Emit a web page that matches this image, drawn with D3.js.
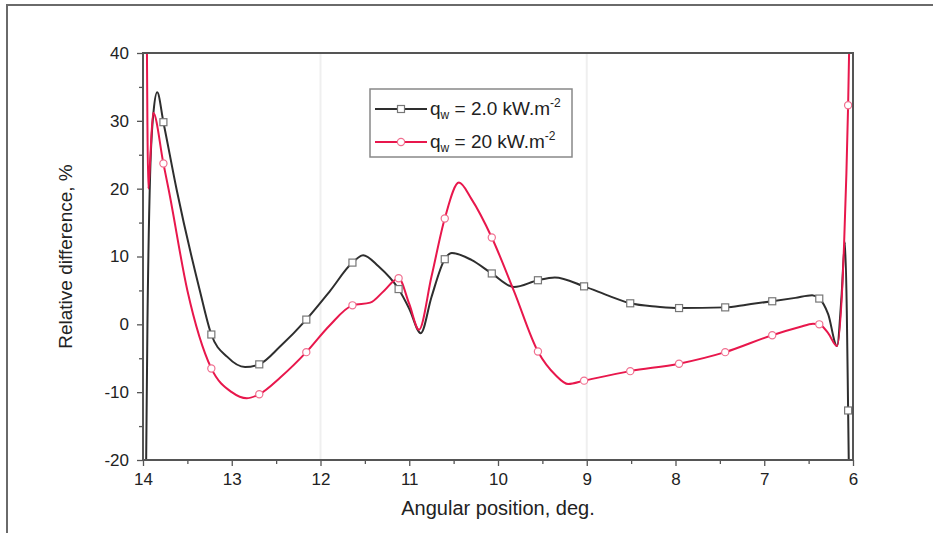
<!DOCTYPE html>
<html><head><meta charset="utf-8">
<script src="https://cdn.jsdelivr.net/npm/d3@7"></script>
<style>body{margin:0;background:#fff;} svg{display:block;font-family:"Liberation Sans",Arial,sans-serif;}</style>
</head><body><svg id="c" width="933" height="533"></svg>
<script>
// ---- data ----
const xTicks = [14, 13, 12, 11, 10, 9, 8, 7, 6];
const yTicks = [-20, -10, 0, 10, 20, 30, 40];
const seriesNames = ["2.0", "20"];
// marker positions (angle, deg) shared by both series
const markX = [13.77, 13.23, 12.69, 12.16, 11.64, 11.12, 10.6, 10.07, 9.55, 9.03, 8.51, 7.96, 7.44, 6.91, 6.38, 6.055];
const lowMarkY  = [29.8, -1.5, -5.9, 0.7, 9.1, 5.2, 9.6, 7.5, 6.5, 5.6, 3.1, 2.4, 2.5, 3.4, 3.8, -12.7];
const highMarkY = [23.7, -6.5, -10.3, -4.1, 2.8, 6.8, 15.6, 12.8, -4.0, -8.3, -6.9, -5.8, -4.1, -1.6, 0.0, 32.3];
// additional curve points (between markers)
const lowExtraX = [13.97, 13.95, 13.92, 13.88, 13.84, 13.62, 13.36, 13.05, 12.85, 12.45, 11.9, 11.52, 11.35, 11.0, 10.87, 10.75, 10.52, 10.3, 9.82, 9.36, 8.75, 8.2, 7.2, 6.65, 6.46, 6.28, 6.18, 6.13, 6.09, 6.07, 6.04];
const lowExtraY = [-28, 0, 22, 31.5, 34.2, 19.8, 5.0, -4.8, -6.3, -3.2, 4.8, 10.2, 8.6, 2.3, -1.3, 4.0, 10.5, 9.5, 5.5, 6.9, 4.2, 2.6, 2.9, 3.9, 4.3, 1.5, -3.2, 4.0, 12.1, 2.0, -28];
const highExtraX = [13.96, 13.94, 13.92, 13.885, 13.71, 13.5, 13.0, 12.83, 12.45, 11.9, 11.44, 11.28, 11.0, 10.89, 10.75, 10.44, 10.3, 9.82, 9.35, 9.21, 6.6, 6.45, 6.28, 6.18, 6.1, 6.03];
const highExtraY = [50, 20, 24, 31.2, 19.8, 5.0, -10.0, -10.9, -7.8, -0.2, 3.2, 5.0, 3.0, -0.8, 7.0, 20.9, 18.5, 4.9, -7.5, -8.8, -0.4, 0.1, -1.3, -3.2, 12.0, 50];

// ---- layout ----
const L = 143, R = 853, T = 53, B = 460;
const svg = d3.select("#c");
const x = d3.scaleLinear().domain([14, 6]).range([L, R]);
const y = d3.scaleLinear().domain([-20, 40]).range([B, T]);

// outer frame
svg.append("path").attr("d", `M7,533 V5 H933`).attr("fill", "none").attr("stroke", "#6a6a6a").attr("stroke-width", 2);

// faint background lines
svg.append("g").selectAll("line").data([12, 9]).join("line")
  .attr("x1", d => x(d)).attr("x2", d => x(d)).attr("y1", T).attr("y2", B)
  .attr("stroke", "#efefef").attr("stroke-width", 2);

// axes
const fmt = d => String(d);
const xAxis = d3.axisBottom(x).tickValues(xTicks).tickSize(6).tickPadding(7).tickFormat(fmt);
const xMinor = d3.axisBottom(x).tickValues(d3.range(13.5, 6, -1)).tickSize(4).tickFormat("");
const yAxis = d3.axisLeft(y).tickValues(yTicks).tickSize(6).tickPadding(8).tickFormat(fmt);
const yMinor = d3.axisLeft(y).tickValues(d3.range(-15, 40, 10)).tickSize(4).tickFormat("");

function styleAxis(g) {
  g.select(".domain").remove();
  g.selectAll("line").attr("stroke", "#555").attr("stroke-width", 1.3);
  g.selectAll("text").attr("fill", "#222").style("font-size", "17px");
}
svg.append("g").attr("transform", `translate(0,${B})`).call(xAxis).call(styleAxis);
svg.append("g").attr("transform", `translate(0,${B})`).call(xMinor).call(styleAxis);
svg.append("g").attr("transform", `translate(${L},0)`).call(yAxis).call(styleAxis);
svg.append("g").attr("transform", `translate(${L},0)`).call(yMinor).call(styleAxis);

// clip
svg.append("clipPath").attr("id", "clip").append("rect")
  .attr("x", L).attr("y", T).attr("width", R - L).attr("height", B - T);

function buildSeries(mx, my, ex, ey) {
  const pts = mx.map((v, i) => [v, my[i]]).concat(ex.map((v, i) => [v, ey[i]]));
  pts.sort((a, b) => b[0] - a[0]);
  return pts;
}
const lowPts = buildSeries(markX, lowMarkY, lowExtraX, lowExtraY);
const highPts = buildSeries(markX, highMarkY, highExtraX, highExtraY);

const line = d3.line().x(d => x(d[0])).y(d => y(d[1])).curve(d3.curveMonotoneX);
const BLACK = "#2e2e2e", RED = "#e8174c";

const plot = svg.append("g").attr("clip-path", "url(#clip)");
plot.append("path").datum(lowPts).attr("d", line).attr("fill", "none").attr("stroke", BLACK).attr("stroke-width", 2);
plot.append("path").datum(highPts).attr("d", line).attr("fill", "none").attr("stroke", RED).attr("stroke-width", 2);

// markers
svg.append("g").selectAll("rect").data(markX.map((v, i) => [v, lowMarkY[i]])).join("rect")
  .attr("x", d => x(d[0]) - 3.5).attr("y", d => y(d[1]) - 3.5).attr("width", 7).attr("height", 7)
  .attr("fill", "#fff").attr("stroke", "#777").attr("stroke-width", 1.2);
svg.append("g").selectAll("circle").data(markX.map((v, i) => [v, highMarkY[i]])).join("circle")
  .attr("cx", d => x(d[0])).attr("cy", d => y(d[1])).attr("r", 3.6)
  .attr("fill", "#fff").attr("stroke", "#f07090").attr("stroke-width", 1.2);

// frame
svg.append("rect").attr("x", L).attr("y", T).attr("width", R - L).attr("height", B - T)
  .attr("fill", "none").attr("stroke", "#555").attr("stroke-width", 2);

// axis titles
svg.append("text").attr("x", (L + R) / 2).attr("y", 515).attr("text-anchor", "middle")
  .style("font-size", "20px").attr("fill", "#222").text("Angular position, deg.");
svg.append("text").attr("transform", `translate(72,${(T + B) / 2}) rotate(-90)`).attr("text-anchor", "middle")
  .style("font-size", "19px").attr("fill", "#222").text("Relative difference, %");

// legend
const lg = svg.append("g");
lg.append("rect").attr("x", 370).attr("y", 89).attr("width", 202).attr("height", 68)
  .attr("fill", "#fff").attr("stroke", "#888").attr("stroke-width", 1.5);
const rows = [{c: BLACK, y: 109, m: "sq"}, {c: RED, y: 142, m: "ci"}];
rows.forEach((r, i) => {
  lg.append("line").attr("x1", 375).attr("x2", 427).attr("y1", r.y).attr("y2", r.y).attr("stroke", r.c).attr("stroke-width", 2);
  if (r.m === "sq") lg.append("rect").attr("x", 397.5).attr("y", r.y - 3.5).attr("width", 7).attr("height", 7).attr("fill", "#fff").attr("stroke", "#777").attr("stroke-width", 1.2);
  else lg.append("circle").attr("cx", 401).attr("cy", r.y).attr("r", 3.6).attr("fill", "#fff").attr("stroke", "#f07090").attr("stroke-width", 1.2);
  const t = lg.append("text").attr("x", 430).attr("y", r.y + 6).style("font-size", "19px").attr("fill", "#222");
  t.append("tspan").text("q");
  t.append("tspan").attr("dy", 4).style("font-size", "12px").text("w");
  t.append("tspan").attr("dy", -4).text(` = ${seriesNames[i]} kW.m`);
  t.append("tspan").attr("dy", -8).style("font-size", "12px").text("-2");
});
</script></body></html>
